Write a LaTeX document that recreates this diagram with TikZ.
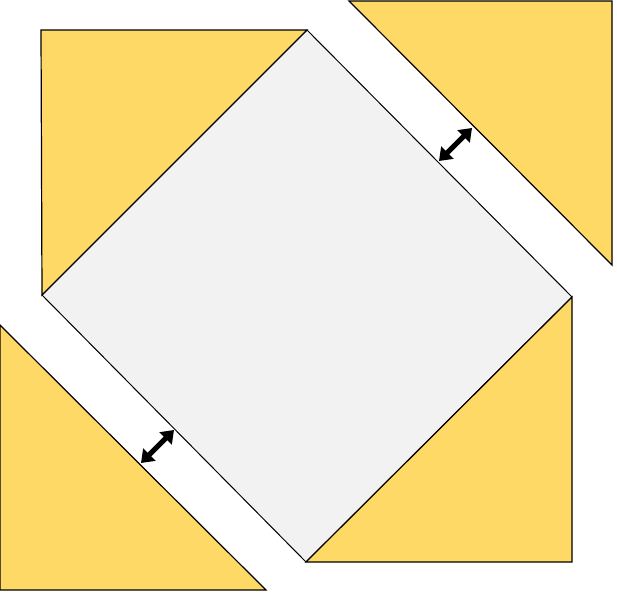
\documentclass[tikz,border=0pt]{standalone}
\usetikzlibrary{arrows.meta}
\definecolor{piece}{HTML}{FFD966}
\definecolor{core}{HTML}{F2F2F2}
\begin{document}
\begin{tikzpicture}[x=1pt,y=-1pt,
  piecestyle/.style={fill=piece,draw=black,line width=1.2pt,line join=miter},
  corestyle/.style={fill=core,draw=black,line width=1pt},
  gaparrow/.style={line width=5pt,{Triangle[width=17pt,length=12pt]}-{Triangle[width=17pt,length=12pt]}}]
\useasboundingbox (0,0) rectangle (617,595);
\fill[white] (0,0) rectangle (617,595);
% square in the middle
\draw[corestyle] (307,30) -- (572,297) -- (306,562) -- (42,295) -- cycle;
% four corner triangles
\draw[piecestyle] (41,30) -- (307,30) -- (42,295) -- cycle;
\draw[piecestyle] (349,1) -- (612,1) -- (612,265) -- cycle;
\draw[piecestyle] (572,297) -- (572,562) -- (306,562) -- cycle;
\draw[piecestyle] (0,325) -- (0,590) -- (266,590) -- cycle;
% arrows across the gaps
\coordinate (a1) at (439,161);
\coordinate (b1) at (472,128);
\coordinate (a2) at (141,463);
\coordinate (b2) at (174,430);
\draw[gaparrow] (a1) -- (b1);
\draw[gaparrow] (a2) -- (b2);
\end{tikzpicture}
\end{document}
